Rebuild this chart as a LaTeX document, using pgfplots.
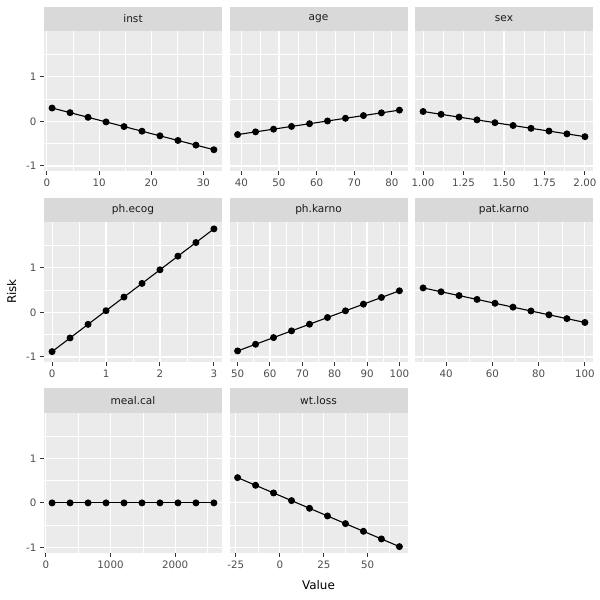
\documentclass[border=0pt]{standalone}
\usepackage{fontspec}
\setmainfont{DejaVu Sans}
\usepackage{pgfplots}
\pgfplotsset{compat=1.18}

\definecolor{panelbg}{HTML}{EBEBEB}
\definecolor{stripbg}{HTML}{D9D9D9}
\definecolor{grey10}{HTML}{1A1A1A}
\definecolor{grey20}{HTML}{333333}
\definecolor{grey30}{HTML}{4D4D4D}

\pgfplotsset{
  facet/.style={
    scale only axis,
    width=178bp, height=140bp,
    anchor=south west,
    ymin=-1.124, ymax=2.017,
    ytick={-1,0,1}, minor ytick={-0.5,0.5,1.5},
    yticklabels={-1,0,1},
    axis background/.style={fill=panelbg},
    axis line style={draw=none},
    grid=both,
    major grid style={white, line width=1.1bp},
    minor grid style={white, line width=0.55bp},
    tick align=outside,
    xtick pos=bottom, ytick pos=left,
    major tick length=4bp,
    minor tick length=0pt,
    every tick/.style={grey20, line width=1bp},
    tick label style={font=\fontsize{10.3}{12}\selectfont, text=grey30},
    every axis title/.style={at={(0.5,1)}, anchor=south, fill=stripbg,
      minimum width=178bp, minimum height=24.5bp, inner sep=0pt,
      text=grey10, font=\fontsize{10.6}{12}\selectfont},
    every axis plot post/.append style={black, line width=1.1bp, mark=*,
      mark size=2.9bp, mark options={solid, fill=black, draw=black}},
  },
  % inner panels: keep the y grid, drop the y ticks and labels
  inner/.style={ymajorticks=false},
}

\begin{document}
\begin{tikzpicture}
\useasboundingbox[fill=white] (0,0) rectangle (600bp,600bp);

% row 1
\begin{axis}[facet, at={(44bp,428.5bp)}, title={inst},
  xmin=-0.55, xmax=33.55, xtick={0,10,20,30}, xticklabels={0,10,20,30},
  minor xtick={5,15,25}]
\addplot coordinates {(1,0.300) (4.444,0.196) (7.889,0.092) (11.333,-0.012)
  (14.778,-0.116) (18.222,-0.220) (21.667,-0.324) (25.111,-0.428)
  (28.556,-0.532) (32,-0.636)};
\end{axis}

\begin{axis}[facet, inner, at={(229.5bp,428.5bp)}, title={age},
  xmin=36.85, xmax=84.15, xtick={40,50,60,70,80}, xticklabels={40,50,60,70,80},
  minor xtick={45,55,65,75}]
\addplot coordinates {(39,-0.296) (43.778,-0.235) (48.556,-0.174) (53.333,-0.113)
  (58.111,-0.052) (62.889,0.009) (67.667,0.070) (72.444,0.131)
  (77.222,0.192) (82,0.253)};
\end{axis}

\begin{axis}[facet, inner, at={(415bp,428.5bp)}, title={sex},
  xmin=0.95, xmax=2.05, xtick={1,1.25,1.5,1.75,2},
  xticklabels={1.00,1.25,1.50,1.75,2.00},
  minor xtick={1.125,1.375,1.625,1.875}]
\addplot coordinates {(1,0.222) (1.111,0.159) (1.222,0.096) (1.333,0.034)
  (1.444,-0.029) (1.556,-0.092) (1.667,-0.155) (1.778,-0.217)
  (1.889,-0.280) (2,-0.343)};
\end{axis}

% row 2
\begin{axis}[facet, at={(44bp,237.5bp)}, title={ph.ecog},
  xmin=-0.15, xmax=3.15, xtick={0,1,2,3}, xticklabels={0,1,2,3},
  minor xtick={0.5,1.5,2.5}]
\addplot coordinates {(0,-0.880) (0.333,-0.574) (0.667,-0.268) (1,0.038)
  (1.333,0.344) (1.667,0.650) (2,0.956) (2.333,1.262)
  (2.667,1.568) (3,1.874)};
\end{axis}

\begin{axis}[facet, inner, at={(229.5bp,237.5bp)}, title={ph.karno},
  xmin=47.5, xmax=102.5, xtick={50,60,70,80,90,100},
  xticklabels={50,60,70,80,90,100}, minor xtick={55,65,75,85,95}]
\addplot coordinates {(50,-0.865) (55.556,-0.715) (61.111,-0.565) (66.667,-0.415)
  (72.222,-0.265) (77.778,-0.115) (83.333,0.035) (88.889,0.185)
  (94.444,0.335) (100,0.485)};
\end{axis}

\begin{axis}[facet, inner, at={(415bp,237.5bp)}, title={pat.karno},
  xmin=26.5, xmax=103.5, xtick={40,60,80,100}, xticklabels={40,60,80,100},
  minor xtick={30,50,70,90}]
\addplot coordinates {(30,0.549) (37.778,0.463) (45.556,0.377) (53.333,0.291)
  (61.111,0.205) (68.889,0.118) (76.667,0.032) (84.444,-0.054)
  (92.222,-0.140) (100,-0.226)};
\end{axis}

% row 3
\begin{axis}[facet, at={(44bp,47bp)}, title={meal.cal},
  xmin=-29.2, xmax=2725.2, xtick={0,1000,2000}, xticklabels={0,1000,2000},
  minor xtick={500,1500,2500}]
\addplot coordinates {(96,0) (374.2,0) (652.4,0) (930.7,0) (1208.9,0)
  (1487.1,0) (1765.3,0) (2043.6,0) (2321.8,0) (2600,0)};
\end{axis}

\begin{axis}[facet, inner, at={(229.5bp,47bp)}, title={wt.loss},
  xmin=-28.6, xmax=72.6, xtick={-25,0,25,50}, xticklabels={-25,0,25,50},
  minor xtick={-12.5,12.5,37.5,62.5}]
\addplot coordinates {(-24,0.567) (-13.778,0.395) (-3.556,0.223) (6.667,0.051)
  (16.889,-0.121) (27.111,-0.293) (37.333,-0.465) (47.556,-0.637)
  (57.778,-0.809) (68,-0.981)};
\end{axis}

\node[rotate=90, anchor=base, font=\fontsize{12}{14}\selectfont] at (16bp,308.5bp) {Risk};
\node[anchor=base, font=\fontsize{12}{14}\selectfont] at (318.5bp,10.7bp) {Value};
\end{tikzpicture}
\end{document}
